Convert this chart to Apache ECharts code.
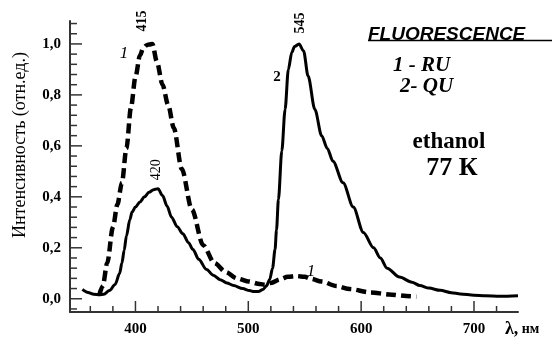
<!DOCTYPE html>
<html>
<head>
<meta charset="utf-8">
<script src="https://cdn.jsdelivr.net/npm/echarts@6/dist/echarts.min.js"></script>
<style>
  html, body { margin: 0; padding: 0; background: #fff; }
  #chart { width: 552px; height: 338px; }
</style>
</head>
<body>
<div id="chart"></div>
<script>
// Fluorescence spectra in ethanol at 77 K: curve 1 (RU, dashed), curve 2 (QU, solid)
const ruWavelength = [368, 371, 375, 380, 384, 388, 392, 396, 400, 404, 407, 410, 412, 415, 419, 424, 429, 434, 441, 450, 460, 470, 480, 490, 500, 510, 515, 520, 528, 535, 543, 550, 555, 565, 578, 590, 608, 625, 640, 649];
const ruIntensity  = [0.015, 0.05, 0.14, 0.28, 0.37, 0.455, 0.59, 0.75, 0.87, 0.955, 0.985, 0.995, 0.998, 1.0, 0.93, 0.84, 0.76, 0.67, 0.51, 0.35, 0.21, 0.14, 0.105, 0.08, 0.068, 0.058, 0.055, 0.062, 0.076, 0.086, 0.089, 0.086, 0.079, 0.068, 0.05, 0.038, 0.025, 0.017, 0.011, 0.008];

const quWavelength = [353, 358, 363, 368, 372, 377, 382, 386, 388, 390, 392, 395, 397, 400, 404, 408, 412, 416, 420, 424, 428, 432, 437, 442, 447, 451, 456, 463, 469, 475, 481, 487, 495, 501, 505, 509, 513, 516, 519, 521.5, 523.7, 525, 526.7, 529.7, 532.6, 535.5, 538.5, 541, 545, 549, 553, 559, 565, 570, 575, 584, 593, 602, 611, 617, 623, 634, 645, 652, 660, 670, 680, 688, 700, 710, 723, 739];
const quIntensity  = [0.037, 0.025, 0.018, 0.016, 0.018, 0.032, 0.056, 0.1, 0.14, 0.19, 0.246, 0.31, 0.34, 0.36, 0.38, 0.4, 0.418, 0.428, 0.432, 0.405, 0.364, 0.32, 0.283, 0.255, 0.22, 0.193, 0.155, 0.115, 0.092, 0.075, 0.062, 0.052, 0.04, 0.032, 0.028, 0.028, 0.036, 0.05, 0.076, 0.12, 0.193, 0.27, 0.39, 0.58, 0.743, 0.9, 0.966, 0.99, 1.0, 0.972, 0.874, 0.743, 0.64, 0.59, 0.54, 0.455, 0.36, 0.26, 0.2, 0.16, 0.12, 0.085, 0.065, 0.052, 0.042, 0.033, 0.024, 0.019, 0.014, 0.012, 0.01, 0.012];

// Peak positions annotated above the curves
const ruPeaks = [[415, 1.0]];
const quPeaks = [[420, 0.432], [545, 1.0]];

// Axis ranges, tick marks and tick labels
const xRange = [342, 739];
const yRange = [-0.052, 1.09];
const xMajorTicks = [400, 500, 600, 700];
const xMinorTicks = [360, 380, 420, 440, 460, 480, 520, 540, 560, 580, 620, 640, 660, 680, 720];
const yMajorTicks = [0, 0.2, 0.4, 0.6, 0.8, 1.0];
const yMinorTicks = [-0.04, 0.04, 0.08, 0.12, 0.16, 0.24, 0.28, 0.32, 0.36, 0.44, 0.48, 0.52, 0.56, 0.64, 0.68, 0.72, 0.76, 0.84, 0.88, 0.92, 0.96, 1.04, 1.08];

const SERIF = '"Liberation Serif", "Times New Roman", serif';
const SANS = '"Liberation Sans", Arial, sans-serif';
const AXIS_COLOR = '#333';

const W = 552, H = 338;
const plot = { left: 70, right: 34, top: 21, bottom: 26 };
const plotW = W - plot.left - plot.right;
const plotH = H - plot.top - plot.bottom;

// Tick lengths in pixels, expressed in axis units so the ticks go through the scales
const xUnitsPerPx = (xRange[1] - xRange[0]) / plotW;
const yUnitsPerPx = (yRange[1] - yRange[0]) / plotH;

const zip = (xs, ys) => xs.map((x, i) => [x, ys[i]]);

// One short inward segment per tick, drawn as a tiny line series
const tickStyle = { color: AXIS_COLOR, width: 1.5 };
const tickSeries = seg => ({
  type: 'line', xAxisIndex: 0, yAxisIndex: 0, z: 1, silent: true, clip: false,
  showSymbol: false, symbol: 'none', animation: false,
  data: seg, lineStyle: tickStyle
});
const xTicks = (values, len) => values.map(v => tickSeries([[v, yRange[0]], [v, yRange[0] + len * yUnitsPerPx]]));
const yTicks = (values, len) => values.map(v => tickSeries([[xRange[0], v], [xRange[0] + len * xUnitsPerPx, v]]));

const chart = echarts.init(document.getElementById('chart'), null, { renderer: 'canvas' });

chart.setOption({
  animation: false,
  backgroundColor: '#fff',
  grid: Object.assign({}, plot),
  xAxis: {
    type: 'value', min: xRange[0], max: xRange[1], position: 'bottom',
    splitLine: { show: false },
    axisLine: { onZero: false, lineStyle: { color: AXIS_COLOR, width: 2 } },
    axisTick: { show: false },
    axisLabel: {
      customValues: xMajorTicks, margin: 10, color: '#000',
      fontFamily: SERIF, fontWeight: 'bold', fontSize: 15
    }
  },
  yAxis: {
    type: 'value', min: yRange[0], max: yRange[1], position: 'left',
    splitLine: { show: false },
    axisLine: { show: true, onZero: false, lineStyle: { color: AXIS_COLOR, width: 2 } },
    axisTick: { show: false },
    axisLabel: {
      customValues: yMajorTicks, margin: 9, color: '#000',
      fontFamily: SERIF, fontWeight: 'bold', fontSize: 15,
      formatter: v => v.toFixed(1).replace('.', ',')
    }
  },
  series: [].concat(
    xTicks(xMinorTicks, 6),
    xTicks(xMajorTicks, 11),
    yTicks(yMinorTicks, 7),
    yTicks(yMajorTicks, 12),
    [
      {
        name: 'RU', type: 'line', xAxisIndex: 0, yAxisIndex: 0, z: 3,
        data: zip(ruWavelength, ruIntensity),
        showSymbol: false, smooth: 0.3, smoothMonotone: 'x',
        lineStyle: { color: '#000', width: 4.5, type: [10, 5], cap: 'butt' }
      },
      {
        name: 'QU', type: 'line', xAxisIndex: 0, yAxisIndex: 0, z: 3,
        data: zip(quWavelength, quIntensity),
        showSymbol: false, smooth: 0.3, smoothMonotone: 'x',
        lineStyle: { color: '#000', width: 3 }
      }
    ]
  )
});

const toPx = pt => chart.convertToPixel({ xAxisIndex: 0, yAxisIndex: 0 }, pt);

// Peak wavelength labels, anchored to the data points they describe
const peakText = (pt, dx, dy, bold) => {
  const p = toPx(pt);
  return {
    type: 'text', x: p[0] + dx, y: p[1] + dy, rotation: Math.PI / 2,
    style: {
      text: String(pt[0]), align: 'center', verticalAlign: 'middle',
      font: (bold ? 'bold ' : '') + '14px ' + SERIF, fill: '#000'
    }
  };
};

const txt = (x, y, text, font, extra) => ({
  type: 'text', x: x, y: y,
  style: Object.assign({ text: text, font: font, fill: '#000', align: 'center', verticalAlign: 'middle' }, extra || {})
});

chart.setOption({
  graphic: [
    peakText(ruPeaks[0], -10, -23, true),
    peakText(quPeaks[0], -1.5, -19, false),
    peakText(quPeaks[1], 1, -21, true),

    // axis titles
    {
      type: 'text', x: 20, y: 145, rotation: Math.PI / 2,
      style: { text: 'Интенсивность (отн.ед.)', font: '18px ' + SERIF, fill: '#000', align: 'center', verticalAlign: 'middle' }
    },
    {
      type: 'text', x: 505, y: 329,
      style: {
        text: '{l|λ,} {u|нм}', align: 'left', verticalAlign: 'middle', fill: '#000',
        rich: {
          l: { font: 'bold 18px ' + SERIF, fill: '#000' },
          u: { font: 'bold 14px ' + SERIF, fill: '#000' }
        }
      }
    },

    // curve numbers
    txt(124, 54, '1', 'italic 17px ' + SERIF),
    txt(277, 77, '2', 'bold 15px ' + SERIF),
    txt(311, 272, '1', 'italic 17px ' + SERIF),

    // legend block
    txt(368, 35, 'FLUORESCENCE', 'italic bold 19px ' + SANS, { align: 'left' }),
    { type: 'line', shape: { x1: 368, y1: 40.5, x2: 552, y2: 40.5 }, style: { stroke: '#000', lineWidth: 1.5 } },
    txt(393, 66, '1 - RU', 'italic bold 21px ' + SERIF, { align: 'left' }),
    txt(400, 87, '2- QU', 'italic bold 21px ' + SERIF, { align: 'left' }),
    txt(449, 142, 'ethanol', 'bold 23px ' + SERIF),
    txt(452, 168, '77 К', 'bold 26px ' + SERIF)
  ]
});
</script>
</body>
</html>
